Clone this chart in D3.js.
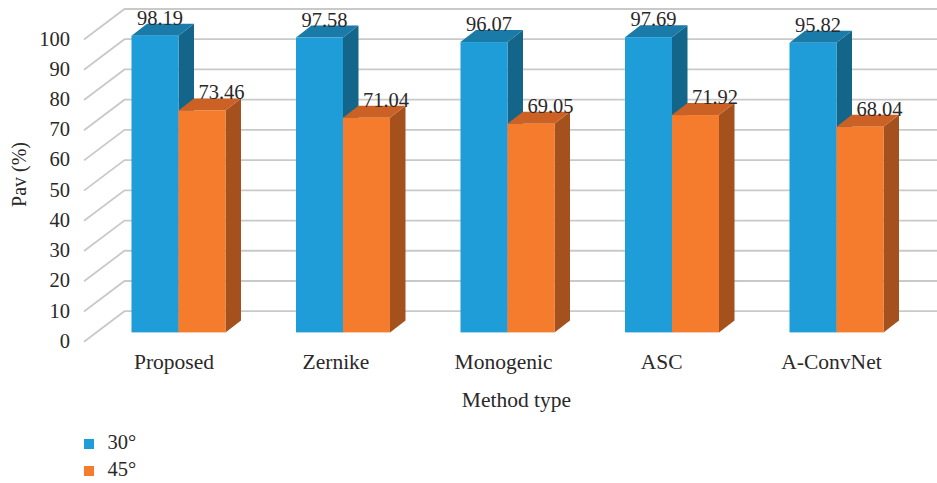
<!DOCTYPE html>
<html><head><meta charset="utf-8">
<script src="https://cdn.jsdelivr.net/npm/d3@7"></script>
<style>
html,body{margin:0;padding:0;background:#fff}
text{font-family:"Liberation Serif",serif;fill:#2b2829}
</style></head><body>
<svg id="c" width="937" height="483"></svg>
<script>
const categories = ["Proposed","Zernike","Monogenic","ASC","A-ConvNet"];
const seriesNames = ["30°","45°"];
const values30 = [98.19,97.58,96.07,97.69,95.82];
const values45 = [73.46,71.04,69.05,71.92,68.04];
const yTicks = [0,10,20,30,40,50,60,70,80,90,100];
const seriesValues = [values30,values45];
const frontColors = ["#1f9dd9","#f47c2c"];
const topColors = ["#1a7aa8","#cb6125"];
const sideColors = ["#14658a","#a4511e"];

const svg = d3.select("#c");
const W = 937;
// wall geometry
const wallDx = 40.5, wallDy = 30.5, wallLeft = 84;
const barDx = 15.5, barDy = 12;
const yFront = d3.scaleLinear().domain([0,100]).range([341.7,39.5]);
const yBar = d3.scaleLinear().domain([0,100]).range([332.4,30.2]);
const x0 = d3.scaleBand().domain(categories).range([96.25,918.75]);
const x1 = d3.scaleBand().domain(d3.range(2)).range([35.25,129.25]);

const grid = svg.append("g").attr("fill","none").attr("stroke","#c9c9c9").attr("stroke-width",1.8);
yTicks.forEach(t=>{
  const y=yFront(t);
  grid.append("path").attr("d",d3.line()([[wallLeft,y],[wallLeft+wallDx,y-wallDy],[W,y-wallDy]]));
});

const axis = d3.axisLeft(yFront).tickValues(yTicks).tickSize(0).tickPadding(0);
const ga = svg.append("g").attr("transform","translate(70,-1)").call(axis);
ga.select(".domain").remove();
ga.selectAll("text").attr("font-family",null).style("font-size","20.5px").attr("fill",null).attr("dy","0.32em");

const groups = svg.selectAll("g.cat").data(categories).join("g").attr("class","cat")
  .attr("transform",d=>`translate(${x0(d)},0)`);
groups.each(function(c,ci){
  const g=d3.select(this);
  seriesValues.forEach((vals,si)=>{
    const v=vals[ci], l=x1(si), r=l+x1.bandwidth(), t=yBar(v), b=yBar(0);
    g.append("path").attr("fill",sideColors[si])
      .attr("d",d3.line()([[r,t],[r+barDx,t-barDy],[r+barDx,b-barDy],[r,b]])+"Z");
    g.append("path").attr("fill",topColors[si])
      .attr("d",d3.line()([[l,t],[l+barDx,t-barDy],[r+barDx,t-barDy],[r,t]])+"Z");
    g.append("rect").attr("x",l).attr("y",t).attr("width",x1.bandwidth()).attr("height",b-t).attr("fill",frontColors[si]);
  });
});
const labelShift = [-4.5,-7,-4,-10.3,-5];
groups.each(function(c,ci){
  const g=d3.select(this);
  seriesValues.forEach((vals,si)=>{
    const v=vals[ci];
    g.append("text").attr("x",x1(si)+x1.bandwidth()/2+(si?19.5:5)).attr("y",yBar(v)-11)
      .attr("text-anchor","middle").style("font-size","20.5px").text(v.toFixed(2));
  });
  g.append("text").attr("x",x0.bandwidth()/2+labelShift[ci]).attr("y",369.3).attr("text-anchor","middle")
    .style("font-size","21.5px").text(c);
});

svg.append("text").attr("x",516.5).attr("y",407).attr("text-anchor","middle").style("font-size","21.5px").text("Method type");
svg.append("text").attr("transform","translate(25.5,174.5) rotate(-90)").attr("text-anchor","middle").style("font-size","20px").text("Pav (%)");

const leg = svg.selectAll("g.leg").data(seriesNames).join("g").attr("class","leg")
  .attr("transform",(d,i)=>`translate(84,${439+i*27})`);
leg.append("rect").attr("width",10).attr("height",10).attr("fill",(d,i)=>frontColors[i]);
leg.append("text").attr("x",23.5).attr("y",10).style("font-size","20.5px").text(d=>d);
</script>
</body></html>
